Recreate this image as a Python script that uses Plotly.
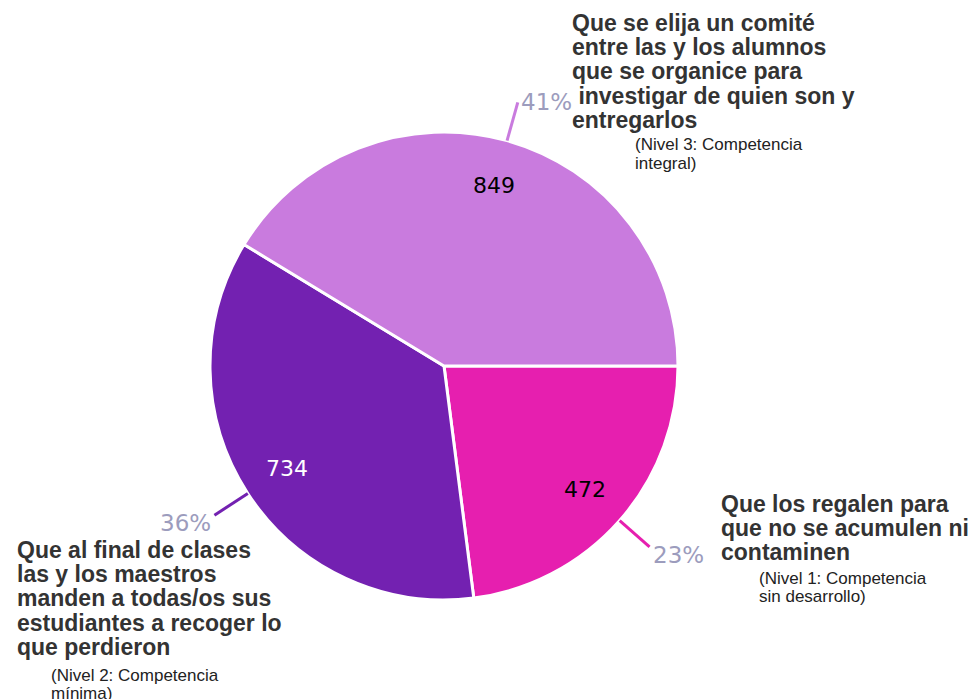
import math
import plotly.graph_objects as go

# ---- data ----
categories = [
    "Que se elija un comité entre las y los alumnos que se organice para investigar de quien son y entregarlos",
    "Que al final de clases las y los maestros manden a todas/os sus estudiantes a recoger lo que perdieron",
    "Que los regalen para que no se acumulen ni contaminen",
]
values = [849, 734, 472]
level_lines = [["(Nivel 3: Competencia", "integral)"],
               ["(Nivel 2: Competencia", "mínima)"],
               ["(Nivel 1: Competencia", "sin desarrollo)"]]
label_lines = [
    ["Que se elija un comité", "entre las y los alumnos", "que se organice para",
     "\u00a0investigar de quien son y", "entregarlos"],
    ["Que al final de clases", "las y los maestros", "manden a todas/os sus",
     "estudiantes a recoger lo", "que perdieron"],
    ["Que los regalen para", "que no se acumulen ni", "contaminen"],
]
colors = ["#C97BDE", "#7321B1", "#E61FAF"]
text_colors = ["#000000", "#FFFFFF", "#000000"]

# page geometry (browser body margin is 8px)
OFF = 8
W, H = 971, 691
CX, CY, R = 444, 366, 234

def px(x):
    return (x - OFF) / W

def py(y):
    return 1 - (y - OFF) / H

# clockwise from 3 o'clock with reversed order == counterclockwise from 3 o'clock
fig = go.Figure(go.Pie(
    labels=categories[::-1],
    values=values[::-1],
    sort=False,
    direction="clockwise",
    rotation=90,
    marker=dict(colors=colors[::-1], line=dict(color="white", width=3)),
    textinfo="none",
    hoverinfo="label+value+percent",
    showlegend=False,
    domain=dict(x=[px(CX - R), px(CX + R)], y=[py(CY + R), py(CY - R)]),
))

annotations = []
shapes = []
total = sum(values)
start = 0.0
for i, v in enumerate(values):
    frac = v / total
    mid = (start + frac / 2) * 2 * math.pi
    start += frac
    c, s = math.cos(mid), math.sin(mid)
    # value label inside the slice
    annotations.append(dict(
        x=px(CX + R * 0.8 * c), y=py(CY - R * 0.8 * s),
        xref="paper", yref="paper", showarrow=False, text=str(v),
        xanchor="center", yanchor="middle",
        font=dict(family="DejaVu Sans", size=22, color=text_colors[i]),
    ))
    # leader line + percentage
    x0, y0 = CX + R * c, CY - R * s
    x1, y1 = CX + R * 1.17 * c, CY - R * 1.17 * s
    shapes.append(dict(type="line", xref="paper", yref="paper",
                       x0=px(x0), y0=py(y0), x1=px(x1), y1=py(y1),
                       line=dict(color=colors[i], width=3)))
    annotations.append(dict(
        x=px(x1 + (1 if c > 0 else -1)), y=py(y1 + (8 if s < 0 else 0)),
        xref="paper", yref="paper", showarrow=False,
        text=f"{round(frac * 100)}%",
        xanchor="left" if c > 0 else "right", yanchor="middle",
        font=dict(family="DejaVu Sans", size=23, color="#9C9CBD"),
    ))

# category label blocks (layout positions)
blocks = [
    dict(x=570, y=23, sx=633, sy=145),
    dict(x=15, y=550, sx=49, sy=675),
    dict(x=719, y=504, sx=757, sy=578),
]
for i, b in enumerate(blocks):
    for j, line in enumerate(label_lines[i]):
        annotations.append(dict(
            x=px(b["x"]), y=py(b["y"] + j * 24.2), xref="paper", yref="paper",
            showarrow=False, text=f"<b>{line}</b>", xanchor="left", yanchor="middle",
            font=dict(family="Liberation Sans", size=23, color="#333333"),
        ))
    for j, line in enumerate(level_lines[i]):
        annotations.append(dict(
            x=px(b["sx"]), y=py(b["sy"] + j * 18), xref="paper", yref="paper",
            showarrow=False, text=line, xanchor="left", yanchor="middle",
            font=dict(family="Liberation Sans", size=17, color="#222222"),
        ))

fig.update_layout(
    width=W, height=H,
    margin=dict(l=0, r=0, t=0, b=0),
    paper_bgcolor="white",
    plot_bgcolor="white",
    annotations=annotations,
    shapes=shapes,
)

fig.write_html("out.html")
